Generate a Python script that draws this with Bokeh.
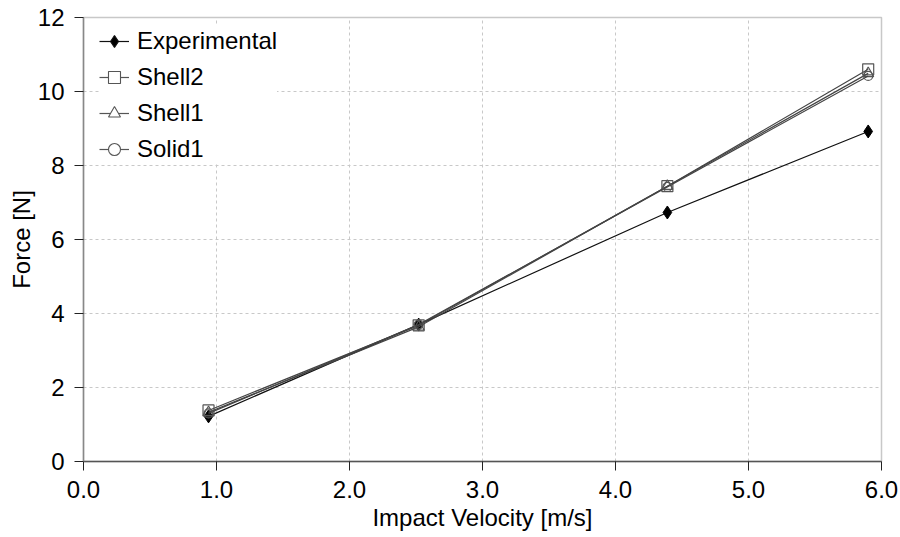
from bokeh.plotting import figure
from bokeh.models import Legend, LegendItem, Range1d, FixedTicker, PrintfTickFormatter, ColumnDataSource
from bokeh.embed import file_html
from bokeh.resources import INLINE

velocity = [0.94, 2.52, 4.39, 5.90]
experimental = [1.22, 3.70, 6.73, 8.92]
shell2 = [1.38, 3.68, 7.44, 10.60]
shell1 = [1.33, 3.64, 7.44, 10.49]
solid1 = [1.30, 3.70, 7.42, 10.42]

x_ticks = [0, 1, 2, 3, 4, 5, 6]
y_ticks = [0, 2, 4, 6, 8, 10, 12]

FONT = "Liberation Sans"

p = figure(width=900, height=537, output_backend="svg", toolbar_location=None,
           x_range=Range1d(0, 6), y_range=Range1d(0, 12),
           min_border_left=83, min_border_right=19, min_border_top=17, min_border_bottom=76)
p.outline_line_color = "#c8c8c8"
p.outline_line_width = 1.5
p.background_fill_color = "white"
p.border_fill_color = "white"

for ax in (p.xaxis[0], p.yaxis[0]):
    ax.major_label_text_font = FONT
    ax.major_label_text_font_size = "24px"
    ax.major_label_text_color = "#000000"
    ax.axis_label_text_font = FONT
    ax.axis_label_text_font_size = "24px"
    ax.axis_label_text_font_style = "normal"
    ax.axis_label_text_color = "#000000"
    ax.minor_tick_line_color = None
    ax.major_tick_in = 0
    ax.major_tick_out = 9
    ax.major_tick_line_color = "#222222"
    ax.axis_line_width = 1.5

p.xaxis.ticker = FixedTicker(ticks=x_ticks)
p.yaxis.ticker = FixedTicker(ticks=y_ticks)
p.xaxis.formatter = PrintfTickFormatter(format="%.1f")
p.yaxis.formatter = PrintfTickFormatter(format="%d")
p.xaxis.axis_label = "Impact Velocity [m/s]"
p.yaxis.axis_label = "Force [N]"
p.xaxis.axis_line_color = "#555555"
p.yaxis.axis_line_color = "#888888"
p.xaxis.major_label_standoff = 10
p.xaxis.axis_label_standoff = 3
p.yaxis.major_label_standoff = 10
p.yaxis.axis_label_standoff = 0

for g in (p.xgrid[0], p.ygrid[0]):
    g.grid_line_color = "#c8c8c8"
    g.grid_line_dash = "3 3"
    g.grid_line_width = 1

src = ColumnDataSource(dict(x=velocity, exp=experimental, s2=shell2, s1=shell1, so=solid1))
# off-screen point so that legend-only glyphs are drawn in the legend only
offscreen = ColumnDataSource(dict(x=[-100.0], y=[-100.0]))

p.line("x", "exp", source=src, line_color="#111111", line_width=1.2)
p.scatter("x", "exp", source=src, marker="diamond", size=13,
          fill_color="black", line_color="black")
p.line("x", "s2", source=src, line_color="#444444", line_width=1.2)
p.scatter("x", "s2", source=src, marker="square", size=11,
          fill_alpha=0.0, line_color="#555555", line_width=1.2)
p.line("x", "s1", source=src, line_color="#444444", line_width=1.2)
p.scatter("x", "s1", source=src, marker="triangle", size=11,
          fill_alpha=0.0, line_color="#555555", line_width=1.2)
p.line("x", "so", source=src, line_color="#444444", line_width=1.2)
p.scatter("x", "so", source=src, marker="circle", size=9,
          fill_alpha=0.0, line_color="#555555", line_width=1.2)

def leg(marker, size, fill, line_color):
    l = p.line("x", "y", source=offscreen, line_color=line_color, line_width=1.2)
    m = p.scatter("x", "y", source=offscreen, marker=marker, size=size,
                  fill_color=fill, line_color=line_color, line_width=1.1)
    return [l, m]

legend = Legend(items=[
    LegendItem(label="Experimental", renderers=leg("diamond", 11, "black", "#111111")),
    LegendItem(label="Shell2", renderers=leg("square", 9, "white", "#555555")),
    LegendItem(label="Shell1", renderers=leg("triangle", 9, "white", "#555555")),
    LegendItem(label="Solid1", renderers=leg("circle", 7, "white", "#555555")),
], location=(16, 297))
legend.label_text_font = FONT
legend.label_text_font_size = "24px"
legend.label_text_color = "#000000"
legend.border_line_color = None
legend.background_fill_color = "white"
legend.background_fill_alpha = 1.0
legend.glyph_width = 30
legend.glyph_height = 30
legend.label_height = 30
legend.label_standoff = 8
legend.spacing = 6
legend.padding = 4
legend.margin = 0
p.add_layout(legend, "center")

open("out.html", "w").write(file_html(p, INLINE))
